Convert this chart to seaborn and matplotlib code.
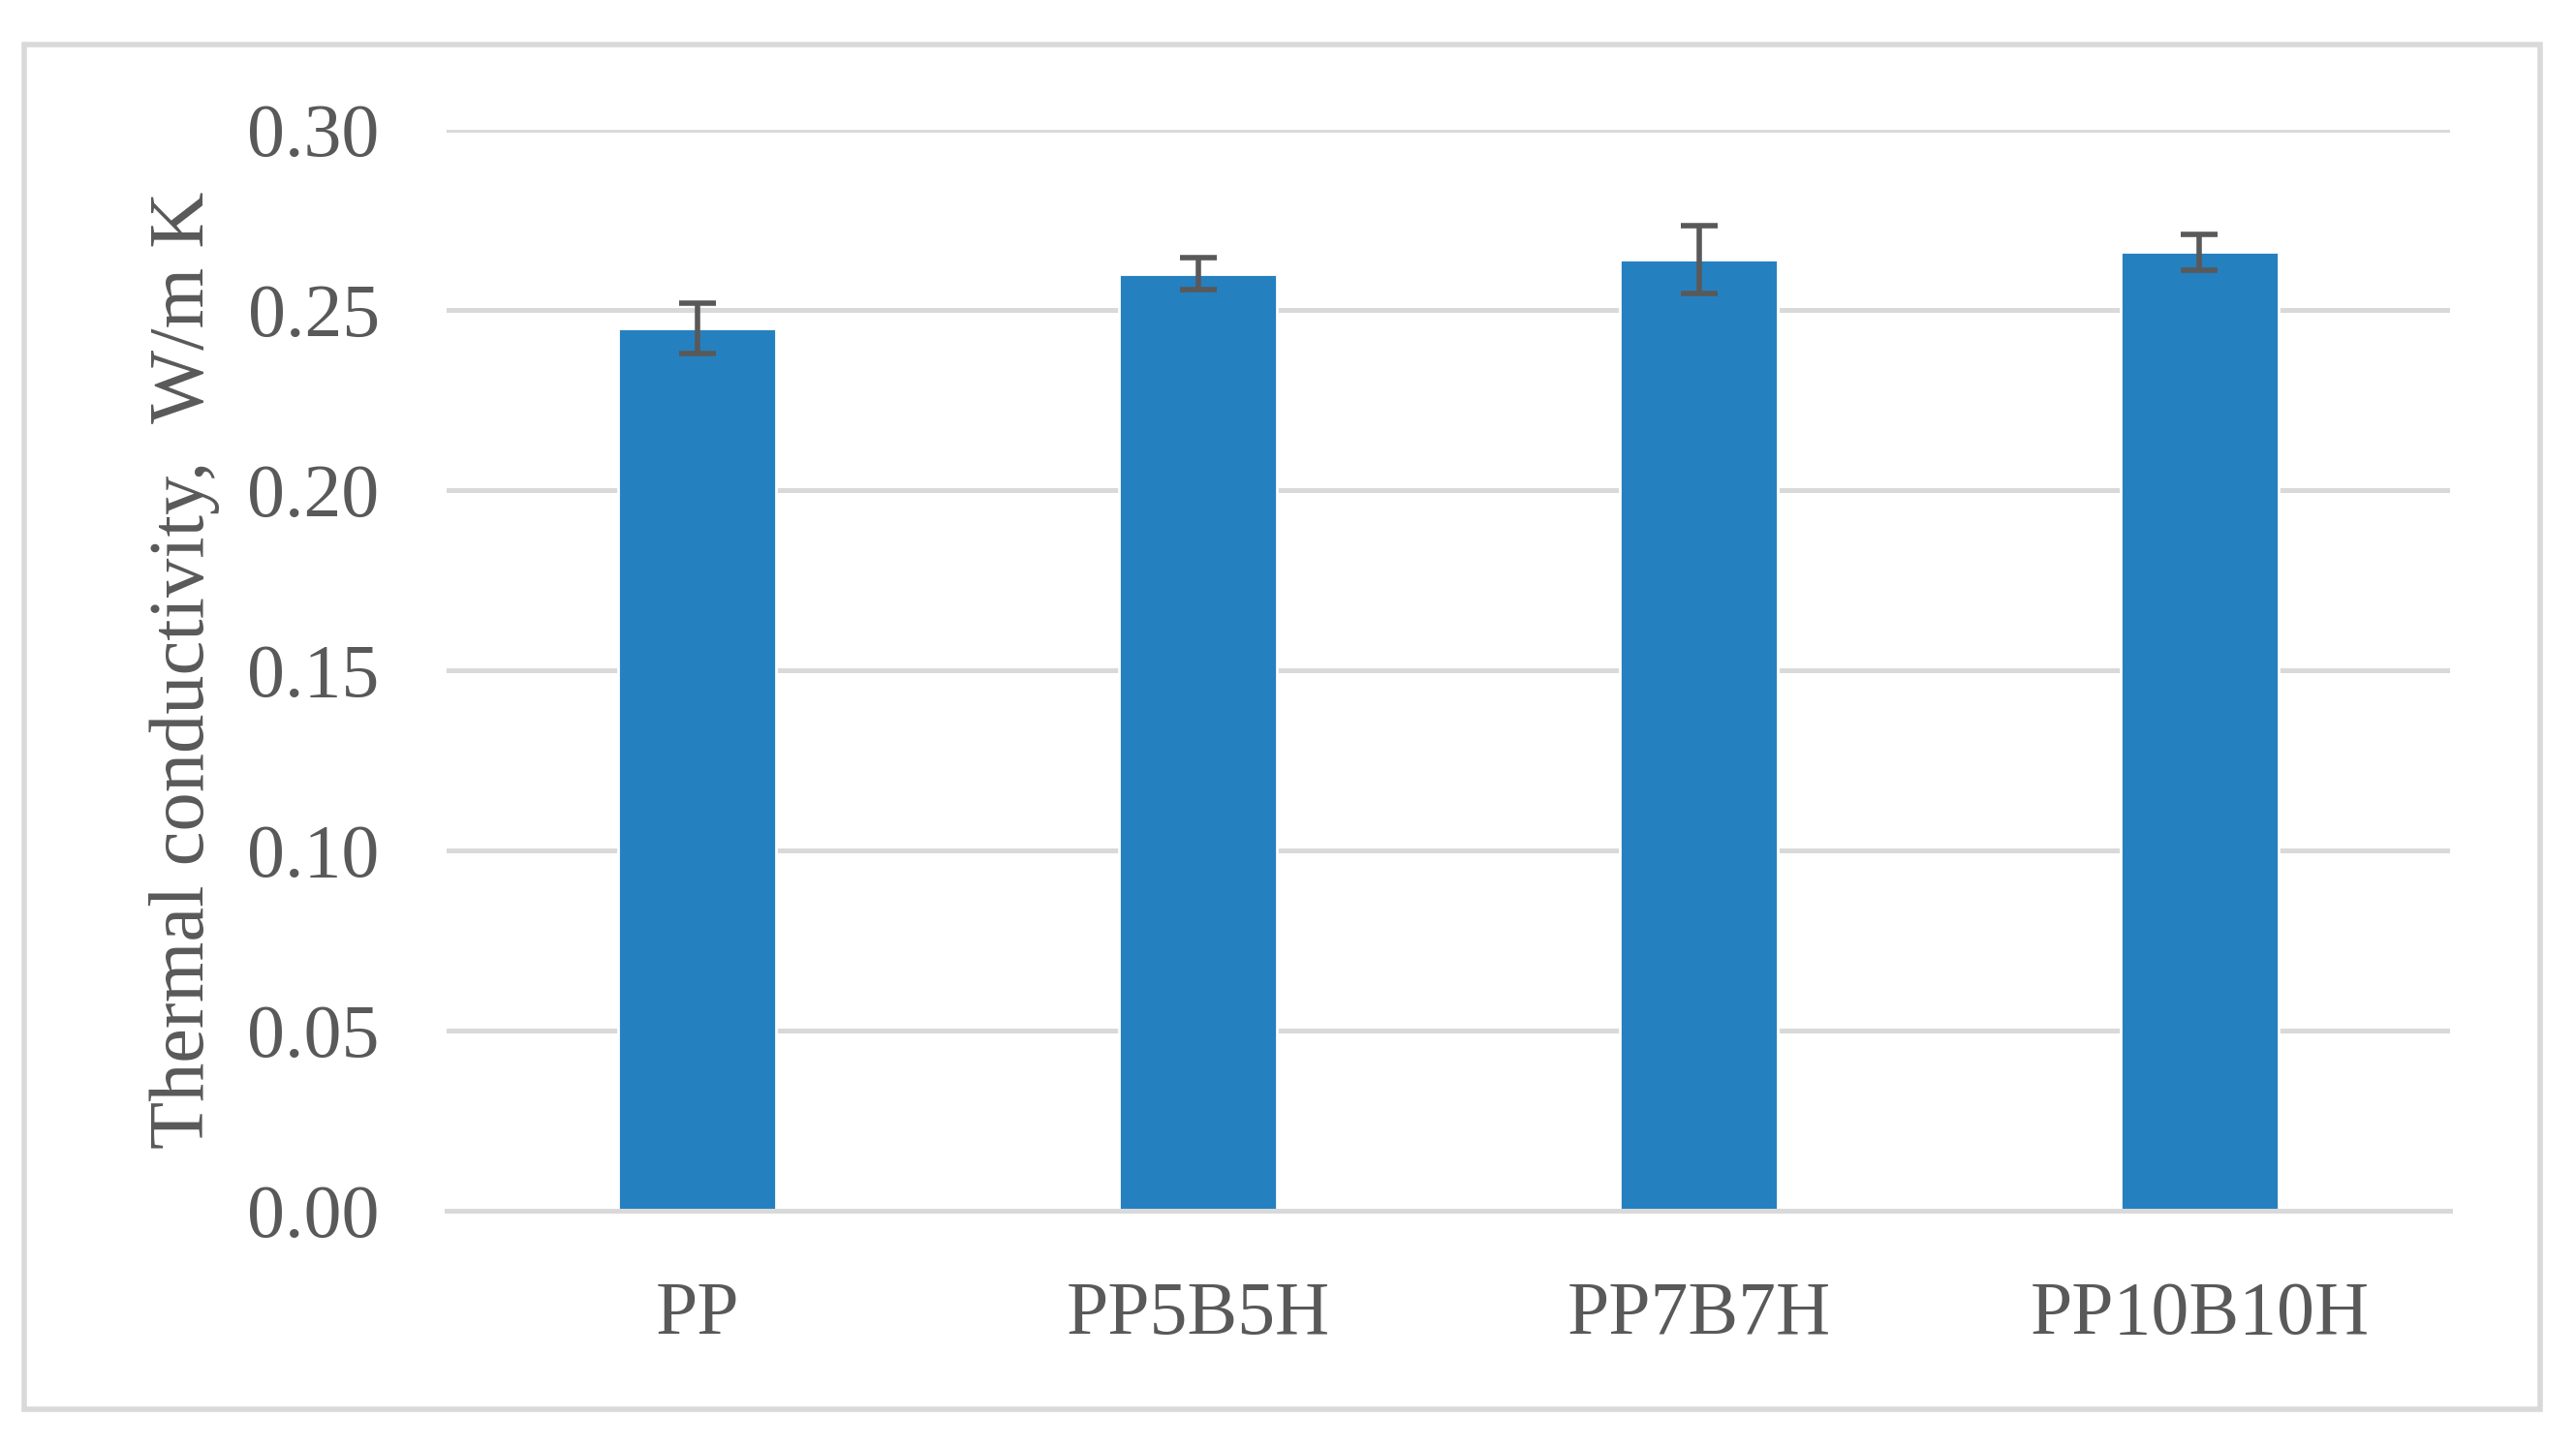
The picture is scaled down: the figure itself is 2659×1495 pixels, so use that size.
import numpy as np
import pandas as pd
import seaborn as sns
from matplotlib import pyplot as plt
from matplotlib.patches import Rectangle

samples = ["PP", "PP5B5H", "PP7B7H", "PP10B10H"]
conductivity = [0.245, 0.260, 0.264, 0.266]
conductivity_err = [0.007, 0.0045, 0.0095, 0.005]
yticks = [0.00, 0.05, 0.10, 0.15, 0.20, 0.25, 0.30]

sns.set_theme(style="white")
plt.rcParams["font.family"] = ["Liberation Serif", "DejaVu Serif"]

df = pd.DataFrame({"sample": samples, "k": conductivity})

fig = plt.figure(figsize=(13.295, 7.475), dpi=200)
ax = fig.add_axes([0.1734, 0.1639, 0.9511 - 0.1734, 0.9104 - 0.1639])

sns.barplot(data=df, x="sample", y="k", color="#2580c0", saturation=1,
            width=0.315, ax=ax, zorder=3)
ax.errorbar(np.arange(len(samples)), conductivity, yerr=conductivity_err,
            fmt="none", ecolor="#595959", elinewidth=2.0, capsize=6.8,
            capthick=2.0, zorder=4)

ax.set_xlim(-0.5, len(samples) - 0.5)
ax.set_ylim(0, 0.30)
ax.set_yticks(yticks)
ax.set_yticklabels([f"{v:.2f}" for v in yticks])
ax.yaxis.grid(True, color="#d9d9d9", linewidth=1.8, zorder=0)
ax.set_axisbelow(True)
for side in ["top", "right", "left"]:
    ax.spines[side].set_visible(False)
ax.spines["bottom"].set_color("#d9d9d9")
ax.spines["bottom"].set_linewidth(1.8)
ax.spines["bottom"].set_zorder(4)

ax.tick_params(axis="y", length=0, pad=25, labelsize=28, labelcolor="#595959")
ax.tick_params(axis="x", length=0, pad=26, labelsize=28, labelcolor="#595959")
ax.set_xlabel("")
ax.set_ylabel("Thermal conductivity,  W/m K", fontsize=29, color="#595959",
              labelpad=10)

fig.patches.append(Rectangle((0.0094, 0.0268), 0.9767, 0.9425,
                             transform=fig.transFigure, fill=False,
                             edgecolor="#d9d9d9", linewidth=2.0))

fig.savefig("out.png", dpi=200, facecolor="white")
